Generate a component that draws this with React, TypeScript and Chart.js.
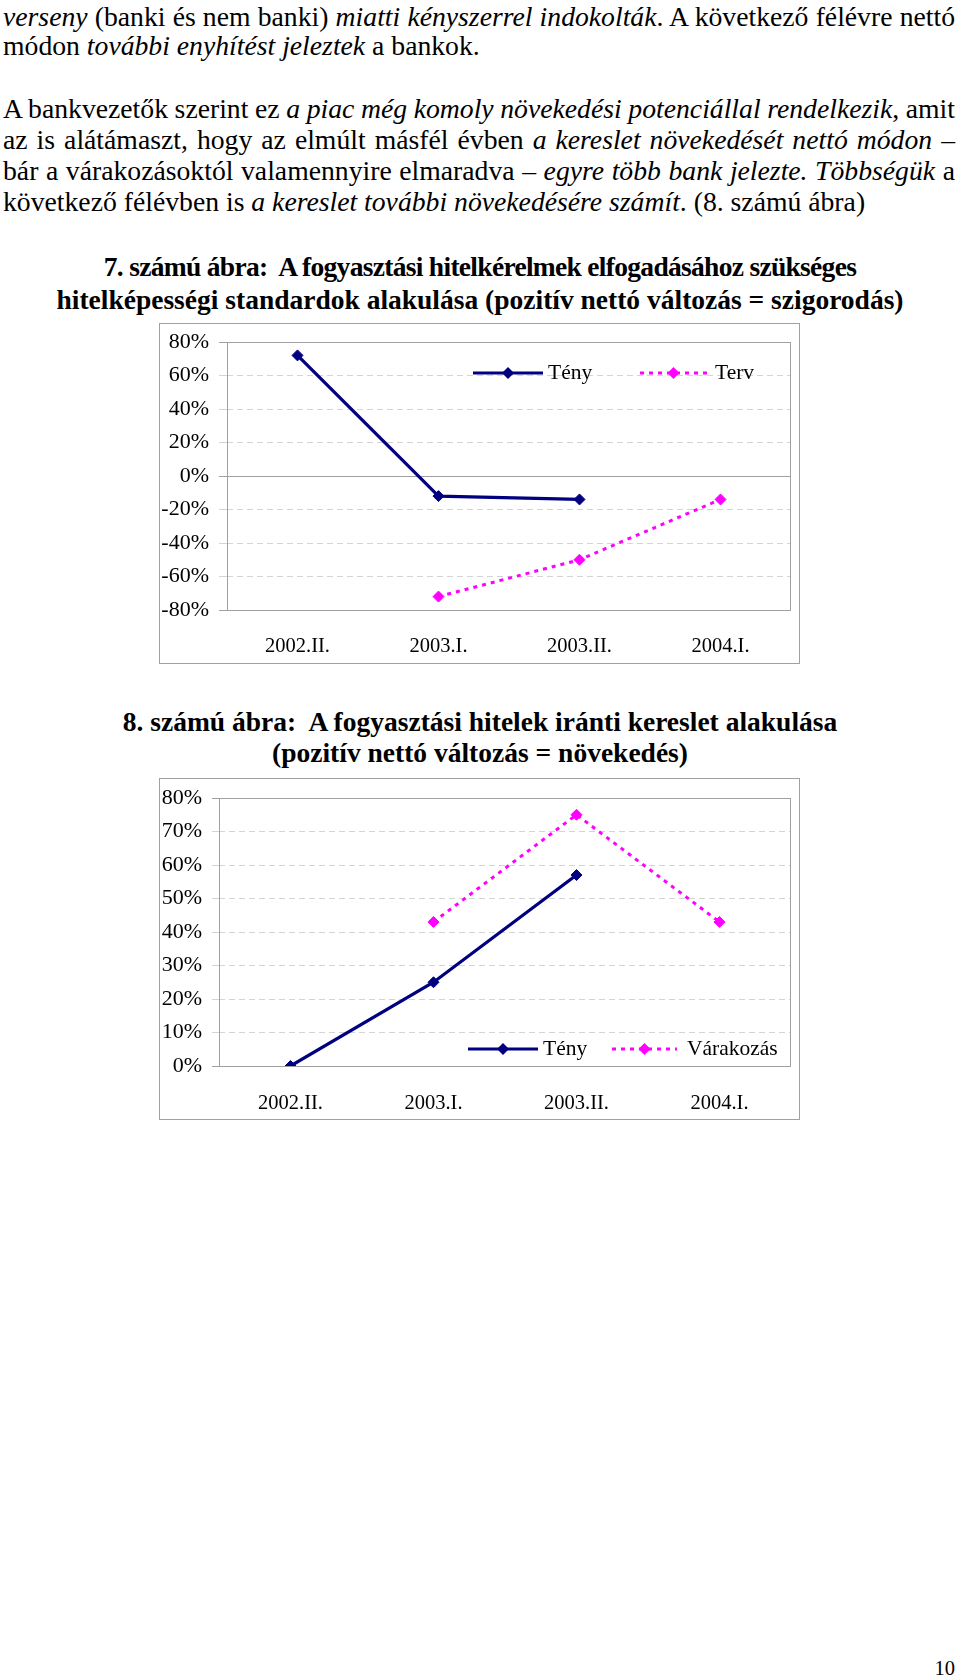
import React, { useEffect, useRef } from "react";
import { Chart, registerables } from "chart.js";

Chart.register(...registerables);

// ---------- data ----------
const categories = ["2002.II.", "2003.I.", "2003.II.", "2004.I."];

const chart1Teny = [72, -12, -14, null];
const chart1Terv = [null, -72, -50, -14];
const chart1Labels = ["Tény", "Terv"];
const chart1YMin = -80;
const chart1YMax = 80;
const chart1YStep = 20;

const chart2Teny = [0, 25, 57, null];
const chart2Varakozas = [null, 43, 75, 43];
const chart2Labels = ["Tény", "Várakozás"];
const chart2YMin = 0;
const chart2YMax = 80;
const chart2YStep = 10;

// ---------- styles ----------
const NAVY = "#000080";
const MAGENTA = "#ff00ff";
const SERIF = '"Liberation Serif", "Times New Roman", serif';
const FRAME = "#a0a0a0";
const GRID_LIGHT = "#d4d4d4";

const plotFramePlugin = {
  id: "plotFrame",
  beforeDatasetsDraw(chart: any) {
    const { ctx, chartArea: a } = chart;
    ctx.save();
    ctx.strokeStyle = FRAME;
    ctx.lineWidth = 1;
    ctx.setLineDash([]);
    const l = Math.round(a.left) + 0.5;
    const t = Math.round(a.top) + 0.5;
    const r = Math.round(a.right) - 0.5;
    const b = Math.round(a.bottom) + 0.5;
    ctx.strokeRect(l, t, r - l, b - t);
    ctx.restore();
  },
};

const innerLegendPlugin = {
  id: "innerLegend",
  afterDraw(chart: any, _args: any, opts: any) {
    if (!opts || !opts.items) return;
    const { ctx } = chart;
    ctx.save();
    opts.items.forEach((item: any, i: number) => {
      const ds = chart.data.datasets[i];
      const y = opts.y;
      const x0 = item.x;
      const x1 = item.x + item.w;
      ctx.strokeStyle = ds.borderColor;
      ctx.lineWidth = ds.borderWidth;
      ctx.setLineDash(ds.borderDash || []);
      ctx.beginPath();
      ctx.moveTo(x0, y);
      ctx.lineTo(x1, y);
      ctx.stroke();
      ctx.setLineDash([]);
      const cx = (x0 + x1) / 2;
      const r = ds.pointRadius + 0.5;
      ctx.fillStyle = ds.pointBackgroundColor;
      ctx.beginPath();
      ctx.moveTo(cx, y - r);
      ctx.lineTo(cx + r, y);
      ctx.lineTo(cx, y + r);
      ctx.lineTo(cx - r, y);
      ctx.closePath();
      ctx.fill();
      ctx.fillStyle = "#000";
      ctx.font = `${opts.fontSize}px ${SERIF}`;
      ctx.textBaseline = "middle";
      ctx.textAlign = "left";
      ctx.fillText(ds.label, x1 + item.gap, y);
    });
    ctx.restore();
  },
};

type ChartCfg = {
  teny: (number | null)[];
  other: (number | null)[];
  labels: string[];
  yMin: number;
  yMax: number;
  yStep: number;
  yAxisWidth: number;
  tickLen: number;
  plotTop: number;
  rightPad: number;
  xAxisHeight: number;
  xPad: number;
  legendY: number;
  legendItems: { x: number; w: number; gap: number }[];
};

function LineChart({ cfg, width, height }: { cfg: ChartCfg; width: number; height: number }) {
  const ref = useRef<HTMLCanvasElement | null>(null);
  useEffect(() => {
    if (!ref.current) return;
    const isEdge = (v: number) => v === 0 || v === cfg.yMin || v === cfg.yMax;
    const chart = new Chart(ref.current, {
      type: "line",
      data: {
        labels: categories,
        datasets: [
          {
            label: cfg.labels[0],
            data: cfg.teny,
            borderColor: NAVY,
            backgroundColor: NAVY,
            borderWidth: 3.2,
            pointStyle: "rectRot",
            pointRadius: 5.5,
            pointBorderWidth: 1,
            pointBackgroundColor: NAVY,
            pointBorderColor: NAVY,
            tension: 0,
            fill: false,
          },
          {
            label: cfg.labels[1],
            data: cfg.other,
            borderColor: MAGENTA,
            backgroundColor: MAGENTA,
            borderWidth: 3,
            borderDash: [4, 5],
            pointStyle: "rectRot",
            pointRadius: 5.5,
            pointBorderWidth: 1,
            pointBackgroundColor: MAGENTA,
            pointBorderColor: MAGENTA,
            tension: 0,
            fill: false,
          },
        ],
      } as any,
      options: {
        animation: false,
        responsive: false,
        devicePixelRatio: 1,
        layout: { padding: { top: cfg.plotTop, right: cfg.rightPad, left: 0, bottom: 0 } },
        plugins: {
          legend: { display: false },
          tooltip: { enabled: false },
          innerLegend: { y: cfg.legendY, items: cfg.legendItems, fontSize: 21.5 },
        } as any,
        scales: {
          x: {
            type: "category",
            offset: true,
            grid: { display: false, drawTicks: false },
            border: { display: false },
            ticks: {
              padding: cfg.xPad,
              color: "#000",
              font: { family: SERIF, size: 20.5 },
              maxRotation: 0,
              autoSkip: false,
            },
            afterFit: (s: any) => {
              s.height = cfg.xAxisHeight;
              s.paddingLeft = 0;
              s.paddingRight = 0;
            },
          },
          y: {
            min: cfg.yMin,
            max: cfg.yMax,
            grid: {
              color: (c: any) => (c.tick && c.tick.value === 0 ? FRAME : GRID_LIGHT),
              tickColor: (c: any) => (c.tick && isEdge(c.tick.value) ? FRAME : GRID_LIGHT),
              tickLength: cfg.tickLen,
              lineWidth: 1,
            },
            border: {
              display: false,
              dash: (c: any) => (c.tick && c.tick.value !== 0 ? [6, 4] : []),
            },
            ticks: {
              stepSize: cfg.yStep,
              padding: 10,
              color: "#000",
              font: { family: SERIF, size: 22 },
              callback: (v: any) => `${v}%`,
            },
            afterFit: (s: any) => {
              s.width = cfg.yAxisWidth;
              s.paddingTop = 0;
              s.paddingBottom = 0;
            },
          },
        },
      } as any,
      plugins: [plotFramePlugin, innerLegendPlugin],
    });
    return () => chart.destroy();
  }, [cfg]);
  return <canvas ref={ref} width={width} height={height} style={{ display: "block", width, height }} />;
}

const chart1Cfg: ChartCfg = {
  teny: chart1Teny,
  other: chart1Terv,
  labels: chart1Labels,
  yMin: chart1YMin,
  yMax: chart1YMax,
  yStep: chart1YStep,
  yAxisWidth: 67,
  tickLen: 8,
  plotTop: 18,
  rightPad: 8,
  xAxisHeight: 53,
  xPad: 24,
  legendY: 49,
  legendItems: [
    { x: 313, w: 70, gap: 5 },
    { x: 480, w: 67, gap: 8 },
  ],
};

const chart2Cfg: ChartCfg = {
  teny: chart2Teny,
  other: chart2Varakozas,
  labels: chart2Labels,
  yMin: chart2YMin,
  yMax: chart2YMax,
  yStep: chart2YStep,
  yAxisWidth: 59,
  tickLen: 7,
  plotTop: 19,
  rightPad: 8,
  xAxisHeight: 53,
  xPad: 25,
  legendY: 270,
  legendItems: [
    { x: 308, w: 70, gap: 5 },
    { x: 452, w: 65, gap: 10 },
  ],
};

const BODY_LH = 31;

function TextLine({
  cy,
  justify,
  children,
}: {
  cy: number;
  justify?: boolean;
  children: React.ReactNode;
}) {
  return (
    <div
      style={{
        position: "absolute",
        left: 3,
        width: 952,
        top: cy - BODY_LH / 2,
        height: BODY_LH,
        lineHeight: `${BODY_LH}px`,
        fontSize: 27.7,
        textAlign: justify ? "justify" : "left",
        textAlignLast: justify ? "justify" : "left",
        wordSpacing: justify ? "-4px" : "normal",
      } as any}
    >
      {children}
    </div>
  );
}

function TitleLine({
  cy,
  spacing,
  children,
}: {
  cy: number;
  spacing?: number;
  children: React.ReactNode;
}) {
  return (
    <div
      style={{
        position: "absolute",
        left: 0,
        width: 960,
        top: cy - 16,
        height: 32,
        lineHeight: "32px",
        fontSize: 27.5,
        fontWeight: "bold",
        textAlign: "center",
        whiteSpace: "pre",
        letterSpacing: spacing ? `${spacing}px` : "normal",
      }}
    >
      {children}
    </div>
  );
}

export default function App() {
  return (
    <div
      style={{
        position: "absolute",
        left: 0,
        top: 0,
        width: 960,
        height: 1678,
        background: "#fff",
        fontFamily: SERIF,
        color: "#000",
        overflow: "hidden",
      }}
    >
      <TextLine cy={16} justify>
        <i>verseny</i> (banki és nem banki) <i>miatti kényszerrel indokolták</i>. A következő félévre nettó
      </TextLine>
      <TextLine cy={45}>
        módon <i>további enyhítést jeleztek</i> a bankok.
      </TextLine>
      <TextLine cy={108} justify>
        A bankvezetők szerint ez <i>a piac még komoly növekedési potenciállal rendelkezik</i>, amit
      </TextLine>
      <TextLine cy={139} justify>
        az is alátámaszt, hogy az elmúlt másfél évben <i>a kereslet növekedését nettó módon</i> –
      </TextLine>
      <TextLine cy={170} justify>
        bár a várakozásoktól valamennyire elmaradva – <i>egyre több bank jelezte. Többségük</i> a
      </TextLine>
      <TextLine cy={201}>
        következő félévben is <i>a kereslet további növekedésére számít</i>. (8. számú ábra)
      </TextLine>

      <TitleLine cy={267} spacing={-0.7}>
        7. számú ábra:  A fogyasztási hitelkérelmek elfogadásához szükséges
      </TitleLine>
      <TitleLine cy={300}>hitelképességi standardok alakulása (pozitív nettó változás = szigorodás)</TitleLine>

      <div
        style={{
          position: "absolute",
          left: 159,
          top: 323,
          width: 641,
          height: 341,
          boxSizing: "border-box",
          border: `1px solid ${FRAME}`,
          background: "#fff",
        }}
      >
        <LineChart cfg={chart1Cfg} width={639} height={339} />
      </div>

      <TitleLine cy={722}>8. számú ábra:  A fogyasztási hitelek iránti kereslet alakulása</TitleLine>
      <TitleLine cy={753}>(pozitív nettó változás = növekedés)</TitleLine>

      <div
        style={{
          position: "absolute",
          left: 159,
          top: 778,
          width: 641,
          height: 342,
          boxSizing: "border-box",
          border: `1px solid ${FRAME}`,
          background: "#fff",
        }}
      >
        <LineChart cfg={chart2Cfg} width={639} height={340} />
      </div>

      <div
        style={{
          position: "absolute",
          right: 5,
          top: 1668 - 14,
          height: 28,
          lineHeight: "28px",
          fontSize: 20.5,
        }}
      >
        10
      </div>
    </div>
  );
}
